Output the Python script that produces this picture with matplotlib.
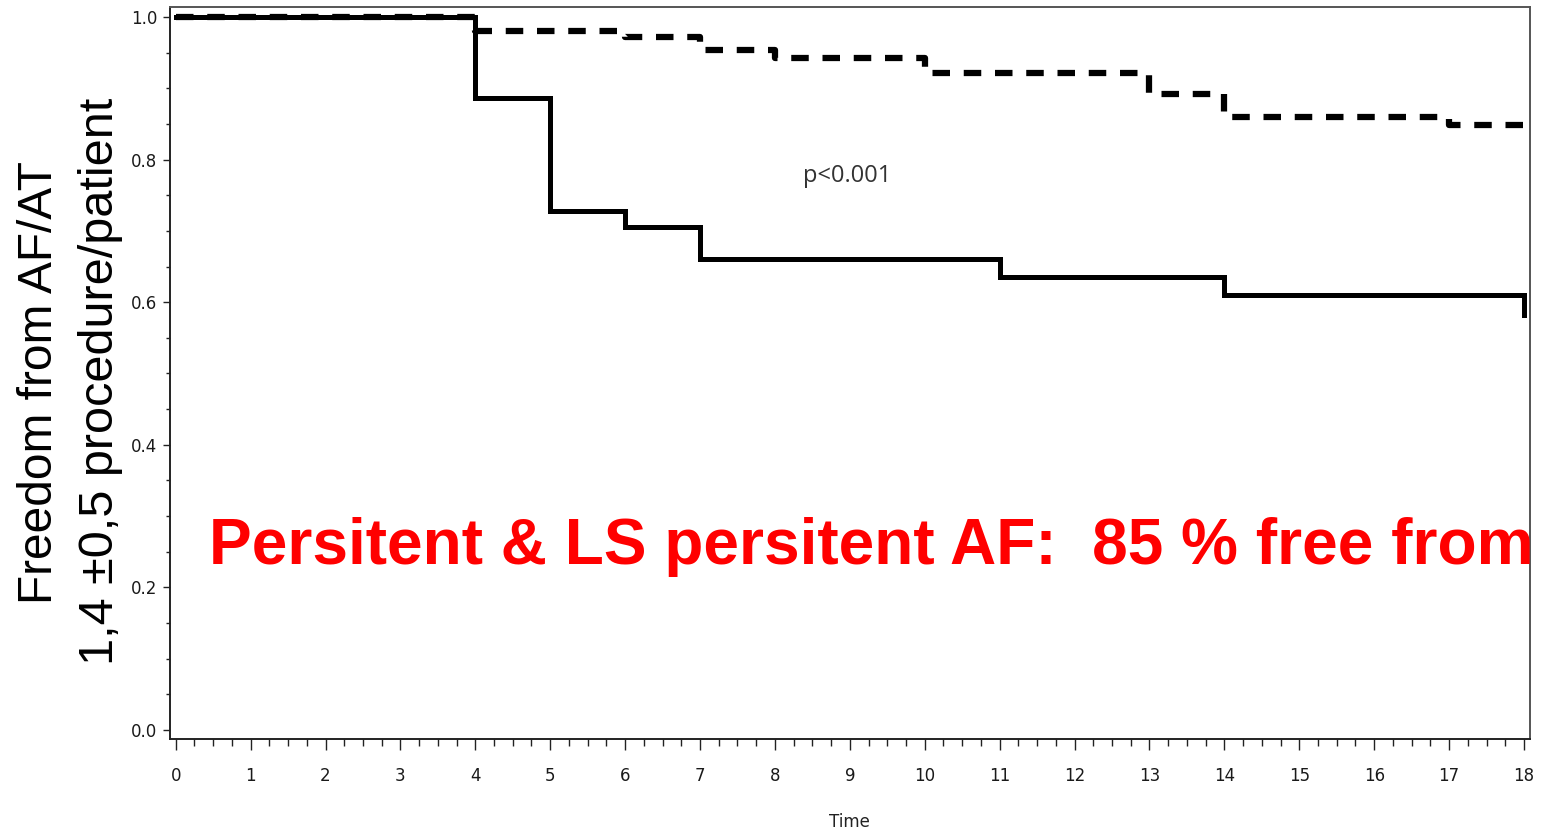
import matplotlib
matplotlib.use("Agg")
import matplotlib.pyplot as plt
from matplotlib.ticker import MultipleLocator

# ---- data ----
solid_times = [0, 4, 5, 6, 7, 11, 14, 18]
solid_surv = [1.0, 0.886, 0.728, 0.705, 0.660, 0.635, 0.610, 0.582]

dashed_times = [0, 4, 6, 7, 8, 10, 13, 14, 17, 18]
dashed_surv = [1.0, 0.980, 0.972, 0.954, 0.943, 0.922, 0.892, 0.860, 0.849, 0.844]

x_ticks = list(range(0, 19))
y_ticks = [0.0, 0.2, 0.4, 0.6, 0.8, 1.0]
y_tick_labels = ["0.0", "0.2", "0.4", "0.6", "0.8", "1.0"]

ylabel_line1 = "Freedom from AF/AT"
ylabel_line2 = "1,4 \u00b10,5 procedure/patient"
xlabel = "Time"
p_text = "p<0.001"
red_text = "Persitent & LS persitent AF:  85 % free from"

# ---- figure ----
W, H = 1548, 832
fig = plt.figure(figsize=(W / 100, H / 100), dpi=100)
ax = fig.add_axes([170 / W, 1 - 739 / H, (1530 - 170) / W, (739 - 7) / H])

ax.step(solid_times, solid_surv, where="post", color="black", lw=3.6,
        solid_joinstyle="miter", zorder=3)
ax.step(dashed_times, dashed_surv, where="post", color="black", lw=4.5,
        linestyle=(0, (2.8, 2.2)), zorder=4)

ax.set_xlim(-0.076, 18.08)
ax.set_ylim(-0.0126, 1.014)

ax.set_xticks(x_ticks)
ax.set_xticklabels([str(t) for t in x_ticks])
ax.xaxis.set_minor_locator(MultipleLocator(0.25))
ax.set_yticks(y_ticks)
ax.set_yticklabels(y_tick_labels)
ax.yaxis.set_minor_locator(MultipleLocator(0.05))

tick_col = "#222222"
ax.tick_params(axis="x", which="major", length=8, width=1.0, color=tick_col,
               labelsize=12, labelcolor="#1a1a1a", pad=12)
ax.tick_params(axis="x", which="minor", length=4.8, width=1.0, color=tick_col)
ax.tick_params(axis="y", which="major", length=5, width=1.0, color=tick_col,
               labelsize=12, labelcolor="#1a1a1a", pad=4)
ax.tick_params(axis="y", which="minor", length=3.2, width=1.0, color=tick_col)

for s in ["left", "bottom"]:
    ax.spines[s].set_color("#222222")
    ax.spines[s].set_linewidth(1.4)
for s in ["top", "right"]:
    ax.spines[s].set_color("#555555")
    ax.spines[s].set_linewidth(1.4)

# p-value
ax.text(847 / W, 1 - 182 / H, p_text, transform=fig.transFigure,
        ha="center", va="baseline", fontsize=17, family=["Open Sans", "DejaVu Sans"],
        color="#333333")

# x label
fig.text(849 / W, 1 - 827 / H, xlabel, ha="center", va="baseline",
         fontsize=12, color="#222222")

# y label (two lines)
fig.text(52 / W, 1 - 383 / H, ylabel_line1, rotation=90, rotation_mode="anchor",
         ha="center", va="baseline", fontsize=34.5,
         family=["Liberation Sans", "DejaVu Sans"], color="black")
fig.text(113 / W, 1 - 381 / H, ylabel_line2, rotation=90, rotation_mode="anchor",
         ha="center", va="baseline", fontsize=35,
         family=["Liberation Sans", "DejaVu Sans"], color="black")

# red overlay text
fig.text(209 / W, 1 - 564 / H, red_text, ha="left", va="baseline",
         fontsize=46.1, fontweight="bold",
         family=["Liberation Sans", "DejaVu Sans"], color="#ff0000", zorder=10)

fig.savefig("out.png", dpi=100)
